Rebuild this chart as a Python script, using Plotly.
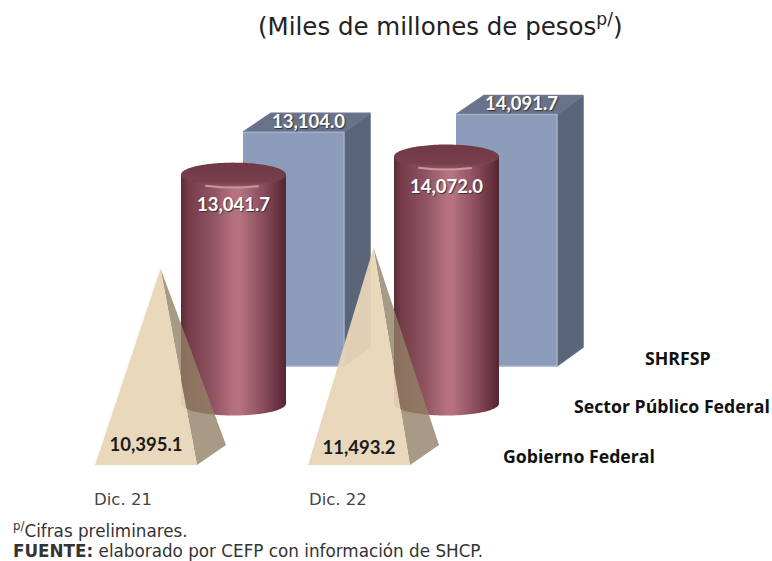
import numpy as np
import plotly.graph_objects as go

# ---- data ----
categories = ["Dic. 21", "Dic. 22"]
shrfsp = [13104.0, 14091.7]
sector_publico = [13041.7, 14072.0]
gobierno = [10395.1, 11493.2]
series_names = ["SHRFSP", "Sector Público Federal", "Gobierno Federal"]

# ---- layout constants (pixels) ----
W, H, PLOT_BOTTOM = 772, 561, 486
X0, STEP = 123, 213
BASE = dict(bar=366, cyl=403.5, pyr=465)
SCALE = dict(bar=0.01784, cyl=0.01755, pyr=0.0189)
NUM_FONT = "Lato"
TXT_FONT = "DejaVu Sans"
BOLD_FONT = "Open Sans"
PYR_LABEL_RISE = [19, 16]


def xp(i, off):
    return i + off / STEP


def dv(kind, px):
    return px / SCALE[kind]


def yrange(kind):
    return [-(PLOT_BOTTOM - BASE[kind]) / SCALE[kind], BASE[kind] / SCALE[kind]]


fig = go.Figure()


def poly(xs, ys, axis, **kw):
    fig.add_trace(go.Scatter(x=xs, y=ys, yaxis=axis, fill="toself", showlegend=False,
                             hoverinfo="skip", **kw))


# blue prisms
L, WID, DX, DY = 120, 101, 26, 19
for i, v in enumerate(shrfsp):
    l, r = L, L + WID
    d = dv("bar", DY)
    poly([xp(i, r), xp(i, r + DX), xp(i, r + DX), xp(i, r)], [0, d, v + d, v], "y", mode="lines",
         fillcolor="#5A6579", line=dict(color="#5E697D", width=1.5))
    poly([xp(i, l), xp(i, l + DX + 2), xp(i, r + DX), xp(i, r)], [v, v + d, v + d, v], "y", mode="lines",
         fillcolor="#687288", line=dict(color="#6C768C", width=1.5))
    poly([xp(i, l), xp(i, r), xp(i, r), xp(i, l)], [0, 0, v, v], "y", mode="lines",
         fillcolor="#8C9CBA", line=dict(color="#A3B0CA", width=1.5))
    fig.add_trace(go.Scatter(x=[xp(i, (l + r) / 2 + 15)], y=[v + dv("bar", 9)], yaxis="y", mode="text",
                             text=[f"{v:,.1f}"], showlegend=False, hoverinfo="skip",
                             textfont=dict(family=NUM_FONT, size=18.5, color="white", weight="bold",
                                           shadow="1px 1px 1px #333")))

# cylinders
CL, CW, RY = 58, 105, 12
BODY_GRAD = [[0, "#5A2C38"], [0.07, "#763C4A"], [0.3, "#8F5362"], [0.5, "#B6717F"], [0.56, "#B67280"],
             [0.78, "#8A4D5E"], [0.94, "#642F3C"], [1, "#522632"]]
t_low = np.linspace(0, np.pi, 60)
t_all = np.linspace(0, 2 * np.pi, 120)
for i, v in enumerate(sector_publico):
    cx, rx = CL + CW / 2, CW / 2
    ry = dv("cyl", RY)
    xs = list(xp(i, cx + rx * np.cos(t_low))) + [xp(i, CL), xp(i, CL + CW)]
    ys = list(-ry * np.sin(t_low)) + [v, v]
    poly(xs, ys, "y2", mode="none", fillgradient=dict(type="horizontal", colorscale=BODY_GRAD))
    poly(xp(i, cx + rx * np.cos(t_all)), v + ry * np.sin(t_all), "y2", mode="none",
         fillgradient=dict(type="vertical", colorscale=[[0, "#8E5562"], [0.2, "#783F4C"], [1, "#6F3945"]]))
    t_h = np.linspace(-np.pi * 0.68, -np.pi * 0.34, 40)
    fig.add_trace(go.Scatter(x=xp(i, cx + rx * np.cos(t_h)), y=v + ry * np.sin(t_h) - dv("cyl", 1),
                             yaxis="y2", mode="lines", line=dict(color="#C9979F", width=2),
                             showlegend=False, hoverinfo="skip"))
    fig.add_trace(go.Scatter(x=[xp(i, cx)], y=[v - dv("cyl", 32)], yaxis="y2", mode="text",
                             text=[f"{v:,.1f}"], showlegend=False, hoverinfo="skip",
                             textfont=dict(family=NUM_FONT, size=18.5, color="white", weight="bold",
                                           shadow="1px 1px 1px #333")))

# pyramids
PL, PW, AP, PDX, PDY = -28, 102, 37.5, 29, 20
for i, v in enumerate(gobierno):
    d = dv("pyr", PDY)
    poly([xp(i, AP), xp(i, PL + PW), xp(i, PL + PW + PDX)], [v, 0, d], "y3", mode="none",
         fillcolor="rgba(146,129,101,0.8)")
    poly([xp(i, AP), xp(i, PL), xp(i, PL + PW)], [v, 0, 0], "y3", mode="none",
         fillcolor="rgba(233,214,184,0.94)")
    fig.add_trace(go.Scatter(x=[xp(i, 23)], y=[dv("pyr", PYR_LABEL_RISE[i])], yaxis="y3", mode="text",
                             text=[f"{v:,.1f}"], showlegend=False, hoverinfo="skip",
                             textfont=dict(family=NUM_FONT, size=18.5, color="#1a1a1a", weight="bold")))


def py(p):
    return (PLOT_BOTTOM - p) / PLOT_BOTTOM


def note(text, x, y, size, anchor="center", color="#222", family=TXT_FONT):
    fig.add_annotation(text=text, x=x / W, y=py(y), xref="paper", yref="paper",
                       showarrow=False, xanchor=anchor, yanchor="middle",
                       font=dict(family=family, size=size, color=color))


note("(Miles de millones de pesos<sup>p/</sup>)", 440, 25, 24.5)
note(f"<b>{series_names[0]}</b>", 678, 358, 17.7, color="#111", family=BOLD_FONT)
note(f"<b>{series_names[1]}</b>", 672, 406, 17.7, color="#111", family=BOLD_FONT)
note(f"<b>{series_names[2]}</b>", 579, 456, 17.7, color="#111", family=BOLD_FONT)
note("<sup>p/</sup>Cifras preliminares.", 11, 530, 16.8, anchor="left", color="#333")
note("<b>FUENTE:</b> elaborado por CEFP con información de SHCP.", 11, 550.5, 16.8, anchor="left", color="#333")

hidden = dict(visible=False, fixedrange=True)
fig.update_layout(
    width=W, height=H, margin=dict(l=0, r=0, t=0, b=H - PLOT_BOTTOM),
    paper_bgcolor="white", plot_bgcolor="white", showlegend=False,
    xaxis=dict(range=[-X0 / STEP, (W - X0) / STEP], tickmode="array", tickvals=[0, 1.009], ticktext=categories,
               showgrid=False, zeroline=False, showline=False, ticks="", fixedrange=True, ticklabelstandoff=1,
               tickfont=dict(family=TXT_FONT, size=16.5, color="#444")),
    yaxis=dict(range=yrange("bar"), **hidden),
    yaxis2=dict(range=yrange("cyl"), overlaying="y", **hidden),
    yaxis3=dict(range=yrange("pyr"), overlaying="y", **hidden),
)
fig.write_html("out.html", config={"displayModeBar": False},
               post_script="document.body.style.margin='0';")
